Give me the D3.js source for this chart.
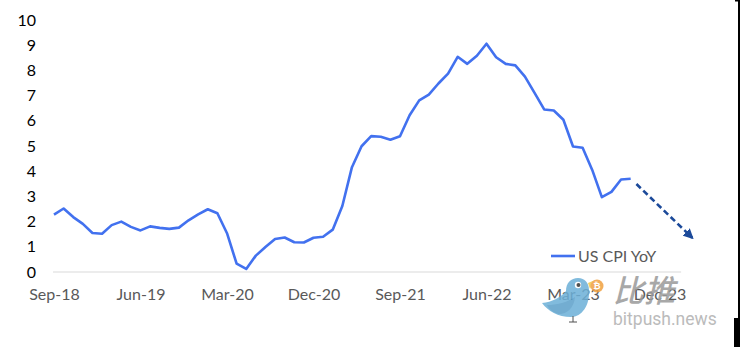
<!DOCTYPE html>
<html>
<head>
<meta charset="utf-8">
<script src="https://cdn.jsdelivr.net/npm/d3@7"></script>
<style>
  html, body { margin: 0; padding: 0; background: #fff; }
  svg { display: block; }
</style>
</head>
<body>
<svg id="chart" width="740" height="347"></svg>
<script>
// ---- data ----
const startMonth = "2018-09";
const cpiYoY = [2.28, 2.52, 2.18, 1.91, 1.55, 1.52, 1.86, 2.00, 1.79, 1.65, 1.81, 1.75,
  1.71, 1.76, 2.05, 2.29, 2.49, 2.33, 1.54, 0.33, 0.12, 0.65, 0.99, 1.31,
  1.37, 1.18, 1.17, 1.36, 1.40, 1.68, 2.62, 4.16, 4.99, 5.39, 5.37, 5.25,
  5.39, 6.22, 6.81, 7.04, 7.48, 7.87, 8.54, 8.26, 8.58, 9.06, 8.52, 8.26,
  8.20, 7.75, 7.11, 6.45, 6.41, 6.04, 4.98, 4.93, 4.05, 2.97, 3.18, 3.67, 3.70];
const xTickLabels = ["Sep-18", "Jun-19", "Mar-20", "Dec-20", "Sep-21", "Jun-22", "Mar-23", "Dec-23"];
const xTickMonths = [0, 9, 18, 27, 36, 45, 54, 63];
const yTicks = [0, 1, 2, 3, 4, 5, 6, 7, 8, 9, 10];
const trendArrow = [[60.6, 3.49], [66.4, 1.36]]; // [month index, value]
const seriesName = "US CPI YoY";

// ---- chart ----
const svg = d3.select("#chart");
const x = d3.scaleLinear().domain([0, 63]).range([54, 659.5]);
const y = d3.scaleLinear().domain([0, 10]).range([272, 20]);
const font = "Lato, 'Open Sans', sans-serif";

// baseline
svg.append("line")
  .attr("x1", x(-0.1)).attr("x2", x(65.25))
  .attr("y1", y(0)).attr("y2", y(0))
  .attr("stroke", "#d9d9d9").attr("stroke-width", 1);

// y axis
const yAxis = svg.append("g")
  .attr("transform", "translate(36,0)")
  .call(d3.axisLeft(y).tickValues(yTicks).tickSize(0).tickPadding(0));
yAxis.select(".domain").remove();
yAxis.selectAll("text").attr("font-family", font).attr("font-size", 16).attr("fill", "#000");

// x axis
const xAxis = svg.append("g")
  .attr("transform", "translate(0,289)")
  .call(d3.axisBottom(x).tickValues(xTickMonths)
    .tickFormat((d, i) => xTickLabels[i]).tickSize(0).tickPadding(0));
xAxis.select(".domain").remove();
xAxis.selectAll("text").attr("font-family", font).attr("font-size", 16).attr("fill", "#595959");

// line
const line = d3.line().x((d, i) => x(i)).y(d => y(d));
svg.append("path")
  .datum(cpiYoY)
  .attr("d", line)
  .attr("fill", "none")
  .attr("stroke", "#4271ef")
  .attr("stroke-width", 2.6)
  .attr("stroke-linejoin", "round");

// dashed arrow
svg.append("defs").append("marker")
  .attr("id", "arrowhead")
  .attr("viewBox", "0 0 10 10")
  .attr("refX", 8).attr("refY", 5)
  .attr("markerWidth", 4).attr("markerHeight", 4)
  .attr("markerUnits", "strokeWidth")
  .attr("orient", "auto")
  .append("path").attr("d", "M0,0 L10,5 L0,10 z").attr("fill", "#1c4a9a");

svg.append("line")
  .attr("x1", x(trendArrow[0][0])).attr("y1", y(trendArrow[0][1]))
  .attr("x2", x(trendArrow[1][0])).attr("y2", y(trendArrow[1][1]))
  .attr("stroke", "#1c4a9a").attr("stroke-width", 2.6)
  .attr("stroke-dasharray", "6,3.5")
  .attr("marker-end", "url(#arrowhead)");

// legend
const lg = svg.append("g").attr("transform", "translate(551,256)");
lg.append("line").attr("x1", 0).attr("x2", 24).attr("y1", 0).attr("y2", 0)
  .attr("stroke", "#4271ef").attr("stroke-width", 2.6);
lg.append("text").attr("x", 27).attr("y", 0).attr("dy", "0.35em")
  .attr("font-family", font).attr("font-size", 16).attr("fill", "#595959")
  .text(seriesName);

// watermark
const wm = svg.append("g").attr("opacity", 0.85);
// bird body
wm.append("path")
  .attr("d", "M542,303 C552,302 560,298 566,291 C566,283 571,278 578,278 C585,278 589,283 589,290 C590,305 582,317 571,317 C558,317 548,311 542,303 Z")
  .attr("fill", "#6cb0d8");
// wing
wm.append("path")
  .attr("d", "M547,305 C556,305 566,303 575,297 C574,308 567,314 559,314 C553,313 549,309 547,305 Z")
  .attr("fill", "#5b9fc9");
// beak
wm.append("path").attr("d", "M588,283 L595,280 L590,289 Z").attr("fill", "#f2c84b");
// eye
wm.append("circle").attr("cx", 578).attr("cy", 285).attr("r", 3.2).attr("fill", "#fff");
wm.append("circle").attr("cx", 578.5).attr("cy", 285).attr("r", 2).attr("fill", "#333");
// feet
wm.append("path").attr("d", "M573,316 L573,322 M569,322 L577,322")
  .attr("stroke", "#333").attr("stroke-width", 1).attr("fill", "none");
// bitcoin coin
wm.append("circle").attr("cx", 597).attr("cy", 286).attr("r", 6.5).attr("fill", "#f0a040");
wm.append("text").attr("x", 597).attr("y", 286).attr("dy", "0.36em").attr("text-anchor", "middle")
  .attr("font-family", "DejaVu Sans, sans-serif").attr("font-size", 9).attr("font-weight", "bold")
  .attr("fill", "#fff").text("₿");
// Chinese text
wm.append("text").attr("x", 0).attr("y", 0)
  .attr("transform", "translate(613,302) skewX(-14)")
  .attr("font-family", "'Noto Sans CJK SC', sans-serif").attr("font-size", 31)
  .attr("font-weight", 500)
  .attr("fill", "#9a9a9a").text("比推");
wm.append("text").attr("x", 613).attr("y", 325)
  .attr("font-family", "Roboto, 'Liberation Sans', sans-serif").attr("font-size", 17.5)
  .attr("fill", "#b0b0b0").text("bitpush.news");

// right frame edge
svg.append("rect").attr("x", 738).attr("y", 0).attr("width", 2).attr("height", 347).attr("fill", "#000");
svg.append("rect").attr("x", 735).attr("y", 0).attr("width", 5).attr("height", 1.5).attr("fill", "#000");
svg.append("rect").attr("x", 734).attr("y", 318).attr("width", 6).attr("height", 29).attr("fill", "#000");
</script>
</body>
</html>
